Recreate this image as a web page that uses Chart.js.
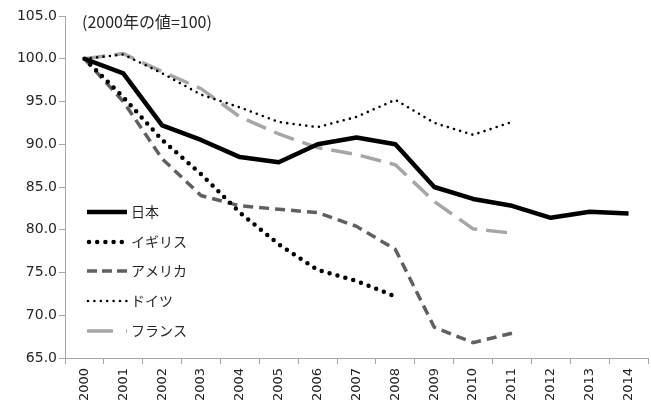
<!DOCTYPE html>
<html>
<head>
<meta charset="utf-8">
<script src="https://cdn.jsdelivr.net/npm/chart.js@4/dist/chart.umd.min.js"></script>
<style>
  html, body { margin: 0; padding: 0; background: #fff; }
  #wrap { width: 651px; height: 409px; }
</style>
</head>
<body>
<div id="wrap"><canvas id="chart" width="651" height="409"></canvas></div>
<script>
// 年（横軸）
const years = ['2000', '2001', '2002', '2003', '2004', '2005', '2006', '2007',
  '2008', '2009', '2010', '2011', '2012', '2013', '2014'];

// 2000年の値=100 として読み取った値
const japan   = [100.0, 98.3, 92.2, 90.5, 88.5, 87.9, 90.0, 90.8, 90.0, 85.0, 83.6, 82.8, 81.4, 82.1, 81.9];
const uk      = [100.0, 95.5, 90.5, 86.5, 82.0, 78.3, 75.3, 74.0, 72.2, null, null, null, null, null, null];
const usa     = [100.0, 95.0, 88.3, 84.0, 82.8, 82.4, 82.0, 80.4, 77.7, 68.6, 66.8, 67.9, null, null, null];
const germany = [100.0, 100.5, 98.3, 95.8, 94.3, 92.6, 92.0, 93.2, 95.2, 92.5, 91.1, 92.6, null, null, null];
const france  = [100.0, 100.6, 98.5, 96.5, 93.2, 91.2, 89.6, 88.8, 87.6, 83.3, 80.1, 79.6, null, null, null];

const seriesNames = ['日本', 'イギリス', 'アメリカ', 'ドイツ', 'フランス'];
const noteText = '(2000年の値=100)';

const AXIS = '#a6a6a6';
const TEXT = '#262626';

// 凡例（グラフ内左下）と注記を描く
const legendInside = {
  id: 'legendInside',
  afterDraw(chart) {
    const c = chart.ctx;
    c.save();
    c.font = '16px "Noto Sans CJK JP"';
    c.fillStyle = TEXT;
    c.textBaseline = 'middle';
    c.fillText(noteText, 82, 22);

    const rows = [212, 242, 271, 301, 331];
    chart.data.datasets.forEach((ds, i) => {
      const y = rows[i];
      c.beginPath();
      c.strokeStyle = ds.borderColor;
      c.lineWidth = ds.borderWidth;
      c.lineCap = ds.borderCapStyle || 'butt';
      c.setLineDash(ds.legendDash || ds.borderDash || []);
      c.moveTo(ds.legendStart || 87, y);
      c.lineTo(127, y);
      c.stroke();
      c.setLineDash([]);
      c.fillStyle = TEXT;
      c.font = '14px "Noto Sans CJK JP"';
      c.fillText(ds.label, 131, y);
    });
    c.restore();
  }
};

new Chart(document.getElementById('chart'), {
  type: 'line',
  data: {
    labels: years,
    datasets: [
      { label: seriesNames[0], data: japan, borderColor: '#000000', borderWidth: 4.5,
        borderJoinStyle: 'round' },
      { label: seriesNames[1], data: uk, borderColor: '#000000', borderWidth: 4.5,
        borderDash: [0, 8.2], borderCapStyle: 'round', legendStart: 89 },
      { label: seriesNames[2], data: usa, borderColor: '#606060', borderWidth: 3.5,
        borderDash: [10, 6], legendDash: [10, 5] },
      { label: seriesNames[3], data: germany, borderColor: '#000000', borderWidth: 2.6,
        borderDash: [0, 6.4], borderCapStyle: 'round', legendStart: 88 },
      { label: seriesNames[4], data: france, borderColor: '#a6a6a6', borderWidth: 3.5,
        borderDash: [21, 9], legendDash: [26, 13, 3, 20] },
    ]
  },
  options: {
    responsive: false,
    animation: false,
    spanGaps: false,
    elements: {
      point: { radius: 0, hoverRadius: 0 },
      line: { tension: 0, fill: false }
    },
    layout: { padding: { top: 16, right: 3, left: 0, bottom: 0 } },
    plugins: {
      legend: { display: false },
      tooltip: { enabled: false }
    },
    scales: {
      x: {
        type: 'category',
        offset: true,
        afterFit: (s) => { s.height = 51; },
        grid: { offset: true, drawOnChartArea: false, drawTicks: true, tickLength: 6, color: AXIS },
        border: { color: AXIS, width: 1 },
        ticks: {
          color: TEXT, maxRotation: 90, minRotation: 90, autoSkip: false, padding: 4,
          font: { family: '"DejaVu Sans"', size: 13 }
        }
      },
      y: {
        min: 65, max: 105,
        afterFit: (s) => { s.width = 65; },
        grid: { drawOnChartArea: false, drawTicks: true, tickLength: 6, color: AXIS },
        border: { color: AXIS, width: 1 },
        ticks: {
          stepSize: 5, color: TEXT, padding: 2,
          font: { family: '"DejaVu Sans"', size: 14 },
          callback: (v) => Number(v).toFixed(1)
        }
      }
    }
  },
  plugins: [legendInside]
});
</script>
</body>
</html>
